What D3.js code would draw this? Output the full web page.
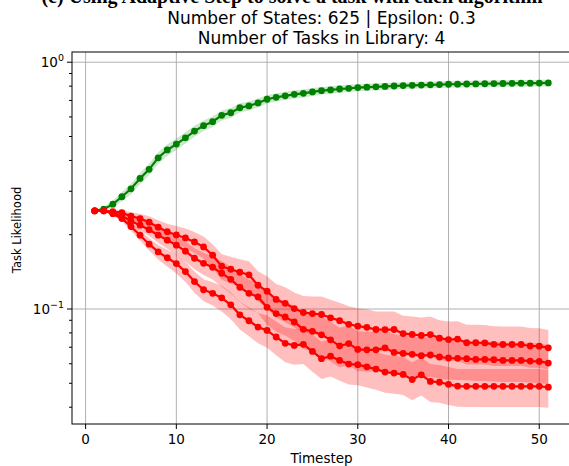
<!DOCTYPE html>
<html>
<head>
<meta charset="utf-8">
<script src="https://cdn.jsdelivr.net/npm/d3@7"></script>
<style>
  body { margin: 0; background: #fff; }
  svg text { font-family: "DejaVu Sans", sans-serif; }
</style>
</head>
<body>
<script>
const width = 569;
const height = 466;

const timesteps = d3.range(1, 52);

// task likelihood means (green = true task, red = the other three in the library)
const trueTask = [0.250, 0.254, 0.266, 0.285, 0.307, 0.338, 0.368, 0.410, 0.441, 0.466,
  0.494, 0.526, 0.553, 0.574, 0.609, 0.624, 0.654, 0.665, 0.684, 0.708,
  0.721, 0.731, 0.741, 0.748, 0.758, 0.767, 0.772, 0.779, 0.784, 0.789,
  0.792, 0.795, 0.798, 0.801, 0.804, 0.806, 0.808, 0.810, 0.812, 0.814,
  0.815, 0.816, 0.817, 0.818, 0.819, 0.820, 0.821, 0.822, 0.822, 0.823, 0.824];
const trueTaskStd = [0, 0.005, 0.009, 0.012, 0.015, 0.018, 0.020, 0.022, 0.024, 0.025,
  0.026, 0.027, 0.027, 0.028, 0.028, 0.028, 0.028, 0.028, 0.028, 0.028,
  0.028, 0.028, 0.028, 0.028, 0.028, 0.027, 0.027, 0.027, 0.027, 0.027,
  0.026, 0.026, 0.026, 0.026, 0.026, 0.026, 0.026, 0.026, 0.026, 0.026,
  0.026, 0.026, 0.026, 0.026, 0.026, 0.026, 0.026, 0.026, 0.026, 0.026, 0.026];

const taskA = [0.250, 0.250, 0.248, 0.2457, 0.2378, 0.2323, 0.2248, 0.2146, 0.2057, 0.1996,
  0.1941, 0.1870, 0.1785, 0.1652, 0.1490, 0.1449, 0.1409, 0.1376, 0.1248, 0.1180,
  0.1093, 0.1054, 0.1004, 0.0968, 0.0958, 0.0950, 0.0921, 0.0897, 0.0867, 0.0852,
  0.0843, 0.0826, 0.0825, 0.0826, 0.0795, 0.0789, 0.0781, 0.0788, 0.0762, 0.0752,
  0.0755, 0.0730, 0.0730, 0.0729, 0.0719, 0.0718, 0.0718, 0.0718, 0.0708, 0.0707, 0.0696];
const taskAStd = [0, 0.001, 0.0047, 0.007, 0.009, 0.011, 0.013, 0.0145, 0.016, 0.0175,
  0.018, 0.0183, 0.0184, 0.0178, 0.0177, 0.018, 0.0182, 0.0184, 0.0175, 0.0177,
  0.017, 0.017, 0.0162, 0.0161, 0.0165, 0.0174, 0.0169, 0.0164, 0.0159, 0.0156,
  0.0154, 0.0151, 0.0151, 0.0151, 0.0145, 0.0144, 0.0143, 0.0144, 0.0139, 0.0138,
  0.0138, 0.0134, 0.0134, 0.0133, 0.0132, 0.0131, 0.0131, 0.0131, 0.0130, 0.0129, 0.0127];

const taskB = [0.250, 0.250, 0.2446, 0.2384, 0.2269, 0.2186, 0.2096, 0.1991, 0.1901, 0.1814,
  0.1715, 0.1606, 0.1532, 0.1476, 0.1396, 0.1319, 0.1225, 0.1158, 0.1119, 0.1016,
  0.0958, 0.0928, 0.0886, 0.0827, 0.0812, 0.0786, 0.0750, 0.0709, 0.0724, 0.0686,
  0.0683, 0.0683, 0.0696, 0.0667, 0.0661, 0.0655, 0.0647, 0.0651, 0.0639, 0.0633,
  0.0631, 0.0629, 0.0625, 0.0625, 0.0623, 0.0619, 0.0619, 0.0619, 0.0615, 0.0613, 0.0604];
const taskBStd = [0, 0.001, 0.0045, 0.0068, 0.0086, 0.0104, 0.0121, 0.0135, 0.0148, 0.0159,
  0.016, 0.0157, 0.0158, 0.0159, 0.0166, 0.0164, 0.0158, 0.0155, 0.0157, 0.0152,
  0.0149, 0.0149, 0.0143, 0.0138, 0.014, 0.0144, 0.0137, 0.013, 0.0132, 0.0126,
  0.0125, 0.0125, 0.0127, 0.0122, 0.0121, 0.012, 0.0118, 0.0119, 0.0117, 0.0116,
  0.0115, 0.0115, 0.0114, 0.0114, 0.0114, 0.0113, 0.0113, 0.0113, 0.0113, 0.0112, 0.011];

const taskC = [0.250, 0.250, 0.2434, 0.2327, 0.2157, 0.1991, 0.1831, 0.1703, 0.1613, 0.1528,
  0.1418, 0.1292, 0.1197, 0.1158, 0.1110, 0.1040, 0.0947, 0.0896, 0.0845, 0.0819,
  0.0770, 0.0726, 0.0712, 0.0719, 0.0673, 0.0629, 0.0644, 0.0619, 0.0598, 0.0595,
  0.0583, 0.0571, 0.0555, 0.0550, 0.0543, 0.0518, 0.0541, 0.0509, 0.0505, 0.0495,
  0.0487, 0.0486, 0.0486, 0.0486, 0.0486, 0.0486, 0.0486, 0.0486, 0.0486, 0.0486, 0.0482];
const taskCStd = [0, 0.001, 0.0046, 0.0066, 0.0082, 0.0095, 0.0106, 0.0115, 0.0125, 0.0134,
  0.0132, 0.0127, 0.0123, 0.0125, 0.0132, 0.0129, 0.0122, 0.012, 0.0118, 0.0123,
  0.012, 0.0117, 0.0118, 0.012, 0.0116, 0.0108, 0.0111, 0.0107, 0.0104, 0.0104,
  0.0102, 0.01, 0.0097, 0.0096, 0.0095, 0.0091, 0.0095, 0.0089, 0.0088, 0.0087,
  0.0085, 0.0085, 0.0085, 0.0085, 0.0085, 0.0085, 0.0085, 0.0085, 0.0085, 0.0085, 0.0084];

const xTicks = [0, 10, 20, 30, 40, 50];
const yMajorTicks = [1, 0.1];
const yTickLabels = [["10", "0"], ["10", "\u22121"]];

const series = [
  { mean: trueTask, std: trueTaskStd, color: "green", band: "green", alpha: 0.2 },
  { mean: taskA, std: taskAStd, color: "red", band: "red", alpha: 0.25 },
  { mean: taskB, std: taskBStd, color: "red", band: "red", alpha: 0.25 },
  { mean: taskC, std: taskCStd, color: "red", band: "red", alpha: 0.25 }
];

const pLeft = 72, pRight = 571, pTop = 52, pBottom = 424;

const svg = d3.select("body").append("svg")
  .attr("width", width)
  .attr("height", height);

const x = d3.scaleLinear().domain([-1.5, 53.5]).range([pLeft, pRight]);
const y = d3.scaleLog().domain([0.0342, 1.10]).range([pBottom, pTop]);

svg.append("clipPath").attr("id", "plot-clip")
  .append("rect")
  .attr("x", pLeft).attr("y", pTop)
  .attr("width", pRight - pLeft).attr("height", pBottom - pTop);

// figure heading, cropped by the top edge in the source image
svg.append("text")
  .attr("x", 292).attr("y", 3)
  .attr("text-anchor", "middle")
  .style("font-family", "'Liberation Serif', serif")
  .style("font-weight", "bold")
  .style("font-size", "20px")
  .text("(c) Using Adaptive Step to solve a task with each algorithm");

// grid
const grid = svg.append("g");
grid.selectAll("line.gx").data(xTicks).join("line")
  .attr("x1", d => x(d)).attr("x2", d => x(d))
  .attr("y1", pTop).attr("y2", pBottom)
  .attr("stroke", "#b0b0b0").attr("stroke-width", 1);
grid.selectAll("line.gy").data(yMajorTicks).join("line")
  .attr("x1", pLeft).attr("x2", pRight)
  .attr("y1", d => y(d)).attr("y2", d => y(d))
  .attr("stroke", "#b0b0b0").attr("stroke-width", 1);

const plot = svg.append("g").attr("clip-path", "url(#plot-clip)");

const area = d3.area()
  .x((d, i) => x(timesteps[i]))
  .y0(d => y(d.lo))
  .y1(d => y(d.hi));

series.forEach(s => {
  const pts = s.mean.map((m, i) => ({ lo: m - s.std[i], hi: m + s.std[i] }));
  plot.append("path")
    .datum(pts)
    .attr("d", area)
    .attr("fill", s.band)
    .attr("fill-opacity", s.alpha);
});

const line = d3.line()
  .x((d, i) => x(timesteps[i]))
  .y(d => y(d));

series.forEach(s => {
  plot.append("path")
    .datum(s.mean)
    .attr("d", line)
    .attr("fill", "none")
    .attr("stroke", s.color)
    .attr("stroke-width", 2.2);
  plot.append("g").selectAll("circle")
    .data(s.mean)
    .join("circle")
    .attr("cx", (d, i) => x(timesteps[i]))
    .attr("cy", d => y(d))
    .attr("r", 3.4)
    .attr("fill", s.color);
});

// spines
svg.append("rect")
  .attr("x", pLeft).attr("y", pTop)
  .attr("width", pRight - pLeft).attr("height", pBottom - pTop)
  .attr("fill", "none").attr("stroke", "#000").attr("stroke-width", 1);

// x axis
const xAxis = svg.append("g");
xAxis.selectAll("line").data(xTicks).join("line")
  .attr("x1", d => x(d)).attr("x2", d => x(d))
  .attr("y1", pBottom).attr("y2", pBottom + 5)
  .attr("stroke", "#000");
xAxis.selectAll("text").data(xTicks).join("text")
  .attr("x", d => x(d)).attr("y", pBottom + 20)
  .attr("text-anchor", "middle")
  .style("font-size", "13.5px")
  .text(d => d);

// y axis: minor ticks then labelled majors
const minorTicks = y.ticks().filter(d => !yMajorTicks.includes(d));
svg.append("g").selectAll("line").data(minorTicks).join("line")
  .attr("x1", pLeft - 3).attr("x2", pLeft)
  .attr("y1", d => y(d)).attr("y2", d => y(d))
  .attr("stroke", "#000");
svg.append("g").selectAll("line").data(yMajorTicks).join("line")
  .attr("x1", pLeft - 5).attr("x2", pLeft)
  .attr("y1", d => y(d)).attr("y2", d => y(d))
  .attr("stroke", "#000");

const yLabels = svg.append("g").selectAll("text").data(yMajorTicks).join("text")
  .attr("x", pLeft - 8)
  .attr("y", d => y(d) + 5)
  .attr("text-anchor", "end")
  .style("font-size", "13.5px");
yLabels.append("tspan").text((d, i) => yTickLabels[i][0]);
yLabels.append("tspan")
  .attr("dy", -6)
  .style("font-size", "9.5px")
  .text((d, i) => yTickLabels[i][1]);

// labels and title
svg.append("text")
  .attr("x", (pLeft + pRight) / 2).attr("y", 463)
  .attr("text-anchor", "middle")
  .style("font-size", "13.5px")
  .text("Timestep");

svg.append("text")
  .attr("transform", "translate(21, 230) rotate(-90)")
  .attr("text-anchor", "middle")
  .style("font-size", "11.5px")
  .text("Task Likelihood");

svg.append("text")
  .attr("x", (pLeft + pRight) / 2).attr("y", 24)
  .attr("text-anchor", "middle")
  .style("font-size", "17px")
  .text("Number of States: 625 | Epsilon: 0.3");
svg.append("text")
  .attr("x", (pLeft + pRight) / 2).attr("y", 44)
  .attr("text-anchor", "middle")
  .style("font-size", "17px")
  .text("Number of Tasks in Library: 4");
</script>
</body>
</html>
